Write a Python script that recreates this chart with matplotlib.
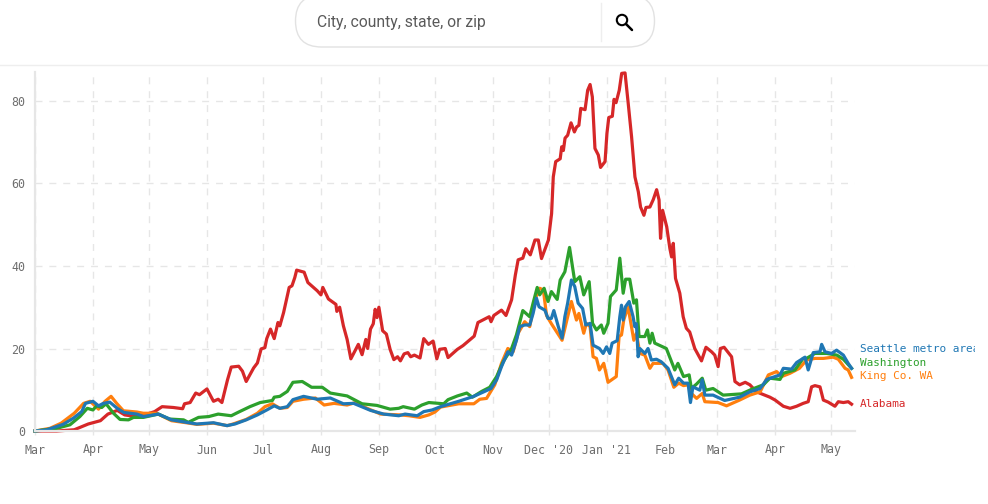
import pandas as pd
import matplotlib
matplotlib.use("Agg")
import matplotlib.pyplot as plt
from matplotlib.patches import FancyBboxPatch, Circle
from matplotlib.transforms import Bbox, TransformedBbox

START = "2020-03-01"
tick_dates = ["2020-03-01","2020-04-01","2020-05-01","2020-06-01","2020-07-01","2020-08-01","2020-09-01",
              "2020-10-01","2020-11-01","2020-12-01","2021-01-01","2021-02-01","2021-03-01","2021-04-01","2021-05-01"]
tick_labels = ["Mar","Apr","May","Jun","Jul","Aug","Sep","Oct","Nov","Dec '20","Jan '21","Feb","Mar","Apr","May"]
y_ticks = [0, 20, 40, 60, 80]

alabama_days = [0,11.6,21,28.5,35,39,44,48,54,60,64,68,74,79,80,83,86,88,92,95.5,98,100,103,105,109,111,113,117,119,121,123,124,126,128,130,131,133,136,137.5,139,140,144,146,151,153,154,157,161,161.5,163,165,167,169,173,175,177,178,179.5,181,182,183,184,186,188,190,192,194,195.5,197.5,199.5,201,203,206,208,210.5,213,215,216.5,219.5,221,226,229,235,237,243,244,245.5,249.6,252,255,257,258.5,261,262.6,265,267.5,269.3,271,274.7,276.4,277.3,278.6,281,281.8,282.7,283.6,285,286.8,288.6,289.8,291,292,294.3,295.7,297,298.2,299.6,301.4,302.6,305,306,307,308.9,309.8,310.9,312.6,313.9,315.7,317.4,319.2,321,322.8,324,325.8,326.9,329,330.8,332.6,333.9,334.7,335.8,338,339.7,340.6,341.5,342.7,345,346.8,348.5,350.3,353,356.6,359,362,363.7,365.5,366.7,368.7,372.7,374.5,377,380,382.5,386,393.2,396,400.4,404,407.5,411,413.7,415.5,417.3,420,421.8,424.4,428,429.8,432.5,435.1,436.9]
alabama_vals = [0,0,0.3,1.7,2.5,4.1,5,3.9,3.5,4.1,4.7,5.9,5.7,5.4,6.6,6.9,9.2,8.8,10.2,7.2,7.7,6.9,12.4,15.5,15.7,14.5,12,15.3,16.5,19.9,20.2,22.4,24.7,22.4,26.3,25.5,28.7,34.8,35.2,37.2,39,38.5,36,34,33,34.8,32,30.7,29,30,25.5,22.2,17.5,21,18.5,22.2,20,24.7,26,29.5,27.5,30,24.3,23.5,19.8,17.3,18,17,18.7,19,18,18.4,17.7,22.4,21,21.8,17.5,19.8,20,17.8,19.8,20.7,23,26.3,27.7,26.5,28,29.3,28,31.8,37.8,41.5,41.9,44.2,42.7,46.3,46.3,41.8,46.3,52.7,61.6,65.3,66,68.9,68,71,71.7,74.7,72.5,73.7,74.1,78.2,77.9,82.6,84,81,68.5,66.9,63.9,65.3,72.1,76,76.3,80.4,79.6,82.6,86.7,86.8,79.4,71.3,61.6,58,54.3,52.3,54.2,54.3,56.1,58.5,56,46.7,53.5,49.5,44.2,42.2,45.5,37,33.4,27.7,24.9,24,20,17,20.3,19.2,18.4,15.6,20,20.3,18,12,11.2,11.8,11.2,9.5,8.2,7.5,6,5.5,6,6.7,7.1,10.7,11,10.7,7.5,7,6,7.1,6.9,7.1,6.5]

seattle_days = [0,6,15,20.5,25,27,31,34,36.6,40,44,47.5,54.5,58,66,73,81,86.6,95.5,102.7,107,113,119,124,128,131,135,138,143.7,151,158,165,170.5,179.5,186.6,194.6,198,204.5,208,212.5,217,226.7,234.8,244,247,249.6,253,255,257.6,259.4,262,264.7,266.5,268.3,269.7,272.8,274.5,276.3,277.6,280,282,283.5,285,287,288.8,290.6,293,294.7,297,298.6,302,304,305.8,307.5,308.8,311.5,312.9,313.8,314.7,315.9,317.9,320,320.9,321.8,322.7,323.6,326.3,328,329.8,332.5,335,338.7,342.3,344.4,347,349.4,350.7,352,355.7,357,358.4,362.8,369,377,382.5,388,391.5,396,398.6,400.4,404.8,407.5,412,413.7,416.4,420,420.9,422.7,426.2,428.9,432.5,435.1,436.9]
seattle_vals = [0,0.25,1.6,3.1,4.7,6.7,7.2,6.1,6.7,7,5.5,4.5,4.1,3.5,4.1,2.7,2.1,1.7,2,1.3,1.7,2.7,3.9,5.1,6.1,5.5,5.9,7.6,8.4,7.7,8,6.6,6.7,5,4.1,3.7,4.1,3.7,4.7,5.1,5.9,7.2,8.4,10.3,12.4,15.6,19.2,18.4,22,25.3,25.7,25.7,28.5,32.2,30.1,29.3,27.3,27.3,29.2,25.3,22.5,27.7,31,36.6,35,31,29.7,25.7,26.1,20.8,20,18.8,20.4,18.8,21.3,21.9,27.7,30.5,26.9,30.1,31.4,27.7,25.3,26,18,20,18.8,20,17.2,17.4,16.8,15.2,11.2,12.8,11.6,11.6,6.9,10.7,9.9,12.4,8.7,8.7,7.4,8.2,9.5,10.3,12.5,13.2,13.6,15.2,15,16.6,17.9,14.8,19,19.2,21,19.2,18.8,19.6,18.4,16.4,15.2]

king_days = [0,8,14,21,26,29.5,34,37.5,40.7,43.7,47.3,54.5,58,65,73,81,86.6,95.5,103,106,113,119,123,127,131,135,138,143.7,150,154.7,160,167,171.5,177.7,185,195.5,200,206,210.7,214,217,226.7,234.8,238,241.6,246,249.6,253,255.8,258.5,262,264.7,267.4,270,272,273.7,276.3,282,285,287,289.7,291,293.6,295,297,298.6,300.4,302,304.3,306.6,311,312.5,313.8,315,317.3,320.4,321.8,323.6,326.3,329,330.7,336,338.7,341.8,344.4,347,349.4,351.2,354,357,358.4,365.5,370,377,382.5,388,392.4,396.8,399.5,404,409,412.8,417.3,421.8,427,429.8,433.4,435.1,436.9]
king_vals = [0,0.65,1.9,4.3,6.7,7.2,5.3,7.2,8.4,6.7,4.9,4.6,4.3,4.3,2.5,2,1.6,1.9,1.3,1.7,2.8,4.3,5.9,6.6,5.5,5.7,7.2,7.7,8,6.3,6.7,6.3,6.9,5.5,4.1,3.9,3.7,3.3,3.9,4.6,5.8,6.6,6.6,7.7,7.9,11.2,16.4,20,19.2,23.7,26.5,25.3,31.8,34.6,34.2,28,26,22,27.7,31.4,26.9,28.5,23.7,26.1,25.3,18,17.6,14.8,16.4,11.8,13.2,22.9,23.3,26.9,30.1,22,23.7,18.8,18.4,15.2,16.4,16.4,14.8,10.6,11.6,11,11.2,9.1,7.9,9.1,7.1,6.9,6.1,7.5,8.7,9.5,13.6,14.4,13.2,14,15.2,17.2,17.6,17.6,17.9,17.4,15.2,14.8,13]

washington_days = [0,11.6,18.7,24,28,31,33,35.7,38,42,45.5,50,52.7,58,66,72,79.5,82,87.5,93,98,105,109,115,120.5,127,128,131,135,138,143,148,153.7,158,167,175,183,190,194.6,197,203,207,210.7,218.7,221,226,231,234,239,243.3,247,250.5,255,257.6,261,264.7,266.5,268.7,270,272.4,274.5,276.3,279.4,281,283.5,286,288.8,291.5,293.6,296.5,298.3,300.4,303,304.3,306.6,307.9,311,312.9,314.7,316,318.2,320.4,321.8,323.2,326.3,327.7,329,330.2,331.6,337.8,342.3,344,347,350,351.2,354,357,358.9,362.8,368.2,378,383.4,389.7,393.2,398.6,400.4,406.6,411,412.8,417.3,423.6,429,432.5,436.9]
washington_vals = [0,0.65,1.5,3.5,5.5,5.1,6.1,5.7,6.6,4.3,2.8,2.7,3.3,3.3,4.1,2.9,2.7,2.1,3.3,3.5,4.1,3.7,4.6,5.9,6.9,7.4,8.2,8.4,9.6,11.8,12,10.6,10.6,9.2,8.5,6.6,6.2,5.3,5.5,5.9,5.3,6.3,6.9,6.6,7.6,8.5,9.2,8.2,9.6,10.6,13.2,16.8,20,23.3,29.2,27.7,31,34.8,33,34.6,31.4,33.8,31.9,36.6,38.6,44.5,36.2,37.4,33,36.2,26.1,24.5,25.7,23.7,26.1,32.6,34.2,41.9,33.4,36.8,36.8,31,31.8,22.9,22.9,24.5,21.3,23.7,21.3,20,14.8,16.4,13.2,13.6,10.3,11.4,12.8,9.9,10.3,8.7,9,10.1,11.2,12.8,12.5,14,14.8,17.6,17.6,18.8,18.8,18.4,17.4,15.2]

series_names = ["Alabama", "King Co. WA", "Washington", "Seattle metro area"]
series_colors = ["#d62728", "#ff7f0e", "#2ca02c", "#1f77b4"]
series_days = [alabama_days, king_days, washington_days, seattle_days]
series_vals = [alabama_vals, king_vals, washington_vals, seattle_vals]
label_values = [6.6, 13.3, 16.6, 20.0]

GREY = "#6e6e6e"
LIGHT = "#e6e6e6"
W, H = 988, 504
fig = plt.figure(figsize=(W/100, H/100), dpi=100, facecolor="white")
ax = fig.add_axes([35/W, 1-431/H, (855-35)/W, (431-72)/H])
ax.set_xlim(0, 820/1.869)
ax.set_ylim(0, 359/4.125)
ticks = [(pd.Timestamp(d) - pd.Timestamp(START)).days for d in tick_dates]
ax.set_xticks(ticks)
ax.set_xticklabels(tick_labels, family="DejaVu Sans Mono", fontsize=8.4, color=GREY)
ax.set_yticks(y_ticks)
ax.set_yticklabels(y_ticks, family="DejaVu Sans Mono", fontsize=8.4, color=GREY)
ax.tick_params(axis="x", length=3, width=1, color=LIGHT, pad=6)
ax.tick_params(axis="y", length=0, pad=7)
ax.grid(True, color=LIGHT, lw=1, linestyle=(0, (5, 5)))
ax.set_axisbelow(True)
for s in ("top", "right"):
    ax.spines[s].set_visible(False)
for s in ("left", "bottom"):
    ax.spines[s].set_color(LIGHT)
    ax.spines[s].set_linewidth(1.6)

for d, v, c in zip(series_days, series_vals, series_colors):
    ax.plot(d, v, color=c, lw=2.3, solid_joinstyle="round", clip_on=False)

clip = TransformedBbox(Bbox([[0, 0], [975/W, 1]]), fig.transFigure)
for name, c, lv in zip(series_names, series_colors, label_values):
    t = ax.annotate(name, xy=(1, lv), xycoords=("axes fraction", "data"), xytext=(5, 0),
                    textcoords="offset pixels", color=c, family="DejaVu Sans Mono",
                    fontsize=7.9, va="center", ha="left", annotation_clip=False)
    t.set_clip_box(clip)
    t.set_clip_on(True)

ui = fig.add_axes([0, 0, 1, 1], facecolor="none", zorder=5)
ui.set_xlim(0, W)
ui.set_ylim(H, 0)
ui.axis("off")
ui.plot([0, W], [65, 65], color="#eeeeee", lw=1)
ui.add_patch(FancyBboxPatch((295.5, -5), 359, 52, boxstyle="round,pad=0,rounding_size=26",
                            fc="white", ec="#e2e2e2", lw=1))
ui.plot([600.5, 600.5], [3, 41], color="#eeeeee", lw=1)
ui.text(317, 22, "City, county, state, or zip", family="Roboto", fontsize=11.3, color="#5a5a5a", va="center", ha="left")
ui.add_patch(Circle((622, 20), 5.2, fc="none", ec="black", lw=1.5))
ui.plot([626, 632], [24, 30], color="black", lw=1.8, solid_capstyle="round")

fig.savefig("out.png", dpi=100)
